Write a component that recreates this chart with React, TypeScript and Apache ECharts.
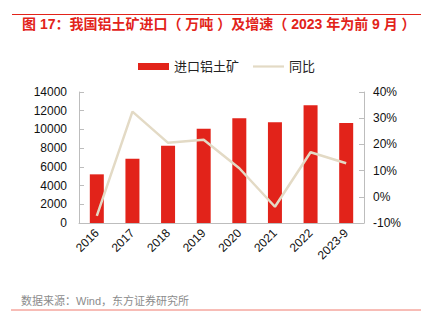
import React, { useEffect, useRef } from "react";
import * as echarts from "echarts";

const categories = ["2016", "2017", "2018", "2019", "2020", "2021", "2022", "2023-9"];
const importValues = [5200, 6870, 8260, 10080, 11190, 10760, 12580, 10690];
const yoyValues = [-7.3, 32.5, 20.6, 21.8, 10.9, -3.8, 17.0, 12.8];
const leftTicks = { min: 0, max: 14000, interval: 2000 };
const rightTicks = { min: -10, max: 40, interval: 10 };

const FONT = "'Liberation Sans', Arial, 'Noto Sans CJK SC', sans-serif";

export default function App() {
  const ref = useRef<HTMLDivElement>(null);
  useEffect(() => {
    document.body.style.margin = "0";
    const chart = echarts.init(ref.current!, null, { renderer: "svg" });
    chart.setOption({
      animation: false,
      textStyle: { fontFamily: FONT },
      graphic: [
        { type: "line", shape: { x1: 12, y1: 14.5, x2: 421, y2: 14.5 }, style: { stroke: "#e2231a", lineWidth: 1 } },
        {
          type: "text",
          left: 22,
          top: 17,
          style: {
            text: "图 17：我国铝土矿进口（ 万吨 ）及增速（ 2023 年为前 9 月 ）",
            fill: "#e2231a",
            font: "bold 14px 'Liberation Sans', Arial, 'Noto Sans CJK SC'",
          },
        },
        {
          type: "text",
          left: 21,
          top: 295,
          style: {
            text: "数据来源：Wind，东方证券研究所",
            fill: "#8c8c8c",
            font: "11px 'Liberation Sans', Arial, 'Noto Sans CJK SC'",
          },
        },
        { type: "line", shape: { x1: 11, y1: 310, x2: 421, y2: 310 }, style: { stroke: "#f07a6e", lineWidth: 1 } },
      ],
      legend: {
        top: 55,
        left: 133,
        itemGap: 14,
        itemWidth: 31,
        itemHeight: 7,
        textStyle: { fontSize: 13, color: "#222", fontFamily: FONT },
        data: [
          { name: "进口铝土矿", icon: "rect" },
          { name: "同比", icon: "path://M0,0L31,0L31,2.2L0,2.2Z" },
        ],
      },
      grid: { left: 79, right: 58, top: 92, bottom: 103, containLabel: false },
      xAxis: {
        type: "category",
        data: categories,
        axisLine: { lineStyle: { color: "#bdbdbd" } },
        axisTick: { inside: true, alignWithLabel: false, lineStyle: { color: "#bdbdbd" } },
        axisLabel: { rotate: 45, color: "#111", fontSize: 12, margin: 8, interval: 0 },
      },
      yAxis: [
        {
          type: "value",
          ...leftTicks,
          axisLine: { show: true, lineStyle: { color: "#bdbdbd" } },
          axisTick: { show: true, inside: true, lineStyle: { color: "#bdbdbd" } },
          splitLine: { show: false },
          axisLabel: { color: "#111", fontSize: 12, margin: 12, formatter: (v: number) => String(v) },
        },
        {
          type: "value",
          ...rightTicks,
          axisLine: { show: true, lineStyle: { color: "#bdbdbd" } },
          axisTick: { show: true, inside: true, lineStyle: { color: "#bdbdbd" } },
          splitLine: { show: false },
          axisLabel: { color: "#111", fontSize: 12, margin: 9, formatter: "{value}%" },
        },
      ],
      series: [
        {
          name: "进口铝土矿",
          type: "bar",
          data: importValues,
          barWidth: 14,
          itemStyle: { color: "#e2231a" },
        },
        {
          name: "同比",
          type: "line",
          yAxisIndex: 1,
          data: yoyValues,
          symbol: "none",
          lineStyle: { color: "#e3dac5", width: 2.5 },
          itemStyle: { color: "#e3dac5" },
        },
      ],
    });
    return () => chart.dispose();
  }, []);
  return <div ref={ref} style={{ width: 422, height: 326 }} />;
}
